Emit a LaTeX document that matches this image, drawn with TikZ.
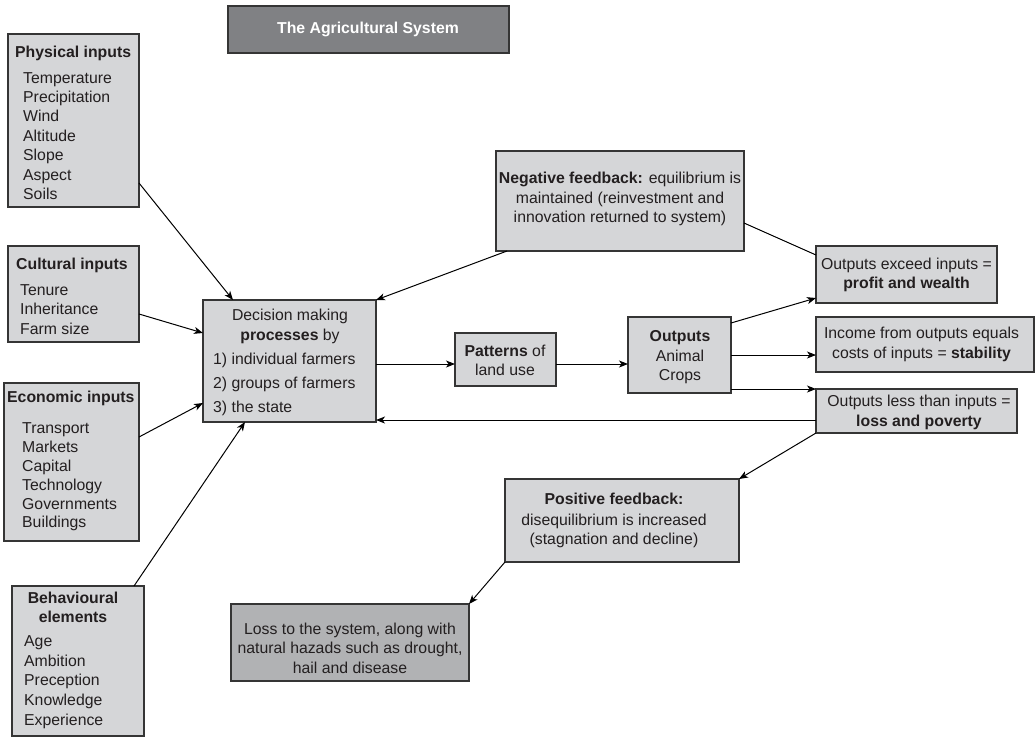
\documentclass[tikz,border=0pt]{standalone}
\usepackage{fontspec}
\setmainfont{Liberation Sans}
\usetikzlibrary{arrows.meta,calc}

\definecolor{boxfill}{HTML}{D5D6D8}
\definecolor{titlefill}{HTML}{808184}
\definecolor{lossfill}{HTML}{B1B2B4}
\definecolor{ink}{HTML}{231F20}
\definecolor{edge}{HTML}{353535}

\newcommand\bodyfont[1]{\fontsize{15.8pt}{#1}\selectfont}

\tikzset{
  panel/.style={draw=edge, line width=1.3pt, fill=boxfill, inner sep=0pt,
                outer sep=0pt, anchor=north west},
  lbl/.style={inner sep=0pt, text=ink, font=\bodyfont{19.4pt}},
  head/.style={lbl, font=\bodyfont{19.4pt}\bfseries},
  arr/.style={draw=black, line width=1pt,
              -{Stealth[length=9pt,width=7pt,inset=2.5pt]}},
  link/.style={draw=black, line width=1pt},
}

\begin{document}
\begin{tikzpicture}[x=1pt,y=-1pt]
\useasboundingbox (0,0) rectangle (1035,737);

% ---- boxes ----
\node[panel, fill=titlefill, minimum width=281pt, minimum height=47pt] (title) at (228,6) {};
\node[panel, minimum width=131pt, minimum height=173pt] (phys)  at (8,34)   {};
\node[panel, minimum width=131pt, minimum height=96pt]  (cult)  at (8,246)  {};
\node[panel, minimum width=135pt, minimum height=158pt] (econ)  at (4,383)  {};
\node[panel, minimum width=132pt, minimum height=150pt] (behav) at (12,586) {};
\node[panel, minimum width=173pt, minimum height=122pt] (dec)   at (203,300) {};
\node[panel, minimum width=101pt, minimum height=53pt]  (pat)   at (455,333) {};
\node[panel, minimum width=103pt, minimum height=76pt]  (out)   at (628,317) {};
\node[panel, minimum width=248pt, minimum height=100pt] (neg)   at (496,151) {};
\node[panel, minimum width=181pt, minimum height=57pt]  (prof)  at (816,246) {};
\node[panel, minimum width=218pt, minimum height=55pt]  (stab)  at (816,317) {};
\node[panel, minimum width=201pt, minimum height=44pt]  (loss)  at (816,389) {};
\node[panel, minimum width=234pt, minimum height=83pt]  (pos)   at (505,479) {};
\node[panel, fill=lossfill, minimum width=238pt, minimum height=77pt] (lsys) at (231,604) {};

% ---- texts ----
\node[head, text=white] (title-t) at (368,29.5) {The Agricultural System};

\node[head, anchor=west] (phys-h) at (15,53) {Physical inputs};
\node[lbl, anchor=west, align=left] (phys-l) at (23,136)
  {Temperature\\Precipitation\\Wind\\Altitude\\Slope\\Aspect\\Soils};

\node[head, anchor=west] (cult-h) at (16,265) {Cultural inputs};
\node[lbl, anchor=west, align=left] (cult-l) at (20,309.5)
  {Tenure\\Inheritance\\Farm size};

\node[head, anchor=west] (econ-h) at (7,398) {Economic inputs};
\node[lbl, anchor=west, align=left, font=\bodyfont{18.8pt}] (econ-l) at (22,477)
  {Transport\\Markets\\Capital\\Technology\\Governments\\Buildings};

\node[head, align=center] (behav-h) at (73,607.5) {Behavioural\\elements};
\node[lbl, anchor=west, align=left, font=\bodyfont{19.6pt}] (behav-l) at (24,682)
  {Age\\Ambition\\Preception\\Knowledge\\Experience};

\node[lbl, align=center] (dec-h) at (290,326.5) {Decision making\\\textbf{processes} by};
\node[lbl, anchor=west, align=left, font=\bodyfont{24pt}] (dec-l) at (213,384)
  {1) individual farmers\\2) groups of farmers\\3) the state};

\node[lbl, align=center] (pat-t) at (505,360.5) {\textbf{Patterns} of\\land use};
\node[lbl, align=center] (out-t) at (680,357.5) {\textbf{Outputs}\\Animal\\Crops};
\node[lbl, align=center] (neg-t) at (620,199)
  {\textbf{Negative feedback:} equilibrium is\\maintained (reinvestment and\\innovation returned to system)};
\node[lbl, align=center] (prof-t) at (906.5,275) {Outputs exceed inputs =\\\textbf{profit and wealth}};
\node[lbl, align=center] (stab-t) at (921.5,344.5) {Income from outputs equals\\costs of inputs = \textbf{stability}};
\node[lbl, align=center] (loss-t) at (919,412.5) {Outputs less than inputs =\\\textbf{loss and poverty}};
\node[head] (pos-h) at (614,499) {Positive feedback:};
\node[lbl, align=center] (pos-t) at (614,531) {disequilibrium is increased\\(stagnation and decline)};
\node[lbl, align=center] (lsys-t) at (350,648)
  {Loss to the system, along with\\natural hazads such as drought,\\hail and disease};

% ---- connectors ----
\draw[arr] ([yshift=24pt]phys.south east) -- ([xshift=30pt]dec.north west);
\draw[arr] ([yshift=28pt]cult.south east) -- ([yshift=-33pt]dec.north west);
\draw[arr] ([yshift=-54pt]econ.north east) -- ([yshift=19pt]dec.south west);
\draw[arr] ([xshift=-10pt]behav.north east) -- ([xshift=42pt]dec.south west);
\draw[arr] ([xshift=11pt]neg.south west) -- (dec.north east);

\coordinate (pw) at ([yshift=-4.5pt]pat.west);
\draw[arr] (dec.east |- pw) -- (pw);
\coordinate (pe) at ([yshift=-4.5pt]pat.east);
\draw[arr] (pe) -- (pe -| out.west);

\draw[arr] ([yshift=-6pt]out.north east) -- ([yshift=5pt]prof.south west);
\draw[arr] (out.east) -- (out.east -| stab.west);
\coordinate (ol) at ([yshift=4pt]out.south east);
\draw[arr] (ol) -- (ol -| loss.west);

\coordinate (ld) at ([yshift=-9pt]loss.west);
\draw[arr] (ld) -- (ld -| dec.east);

\draw[link] ([yshift=-72pt]neg.north east) -- ([yshift=-9pt]prof.north west);
\draw[arr] (loss.south west) -- (pos.north east);
\draw[arr] (pos.south west) -- (lsys.north east);
\end{tikzpicture}
\end{document}
